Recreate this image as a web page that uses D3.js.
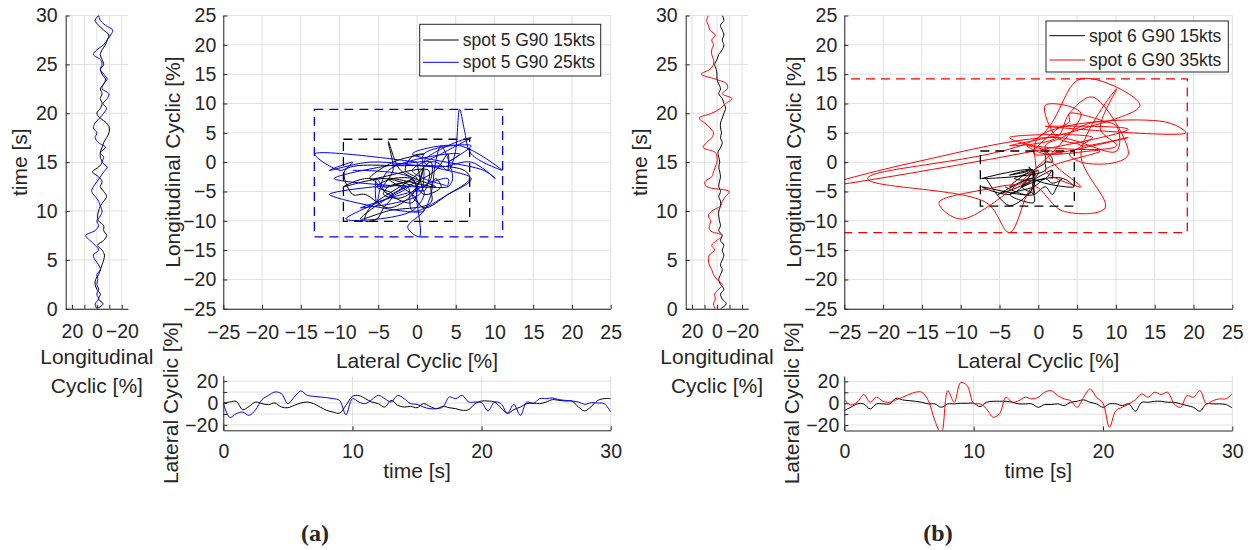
<!DOCTYPE html>
<html>
<head>
<meta charset="utf-8">
<script src="https://cdn.jsdelivr.net/npm/d3@7"></script>
<style>
  body { margin: 0; background: #fff; }
  text { font-family: "Liberation Sans", Arial, sans-serif; fill: #262626; }
</style>
</head>
<body>
<svg id="fig" width="1253" height="550"></svg>
<script>
// sample times [s]
var timeS = [0,0.5,1,1.5,2,2.5,3,3.5,4,4.5,5,5.5,6,6.5,7,7.5,8,8.5,9,9.5,10,10.5,11,11.5,12,12.5,13,13.5,14,14.5,
  15,15.5,16,16.5,17,17.5,18,18.5,19,19.5,20,20.5,21,21.5,22,22.5,23,23.5,24,24.5,25,25.5,26,26.5,27,27.5,28,28.5,29,29.5,30];

// (a) spot 5 G90 15kts
var lonA15 = [0,-5,-1.4,-2.8,0,1.4,1,-1.4,-2.8,-4.2,-5.5,-6.1,-4.2,-0.6,-5.5,-7.8,-5.5,-5.5,-1.4,-0.6,-1.4,-2.8,-5.5,-7.8,-5.5,-2.8,-4.2,-1.4,3.5,-1.4,
  -4.2,-2.8,-2.8,-4.2,-5.5,-7.8,-9.7,-10,-7.8,-2.8,0,-2.8,-4.2,-2.8,-4.2,-2.8,-5.5,-6.9,-4.2,-2.8,-5.5,-4.2,-2.8,-4.2,-6.9,-8.3,-9.7,-5.5,-1.4,1.4,-1.4];
var latA15 = [0,0.9,1.5,-6.1,-3.1,0.9,-0.6,-1.5,0,-3.7,-4.3,-2.1,0,0.9,-0.6,-3.7,-6.7,-8.3,-9.3,-2.1,6.1,6.8,4,0.9,-0.6,-3.7,2.4,-2.1,-3.7,-3.1,
  -4.3,-0.6,-3.1,-5.2,-3.1,-4.3,-5.2,-6.7,-6.1,-0.6,1.8,1.8,0.9,-4.3,-9.5,-6.1,-3.7,-0.6,0,-0.6,0.9,3.1,2.4,1.8,1.8,-3.7,-7.3,-3.1,2.4,4,4];
// (a) spot 5 G90 25kts
var lonA25 = [0,1.4,-1.4,0,-1.4,0,-0.8,0,-2.8,-1.4,1.4,2.8,-1.4,1.4,5.6,9,1.4,-1.4,0,-2.8,-4.2,-2.8,-1.4,1.4,4.2,2.8,0,-2.8,-5.5,-8.3,
  -4.2,-5.5,-2.8,-6.9,-1.4,1.4,0,2.8,1.4,-2.2,-5.5,-7.8,-5,-8.3,-9.7,-4.2,-5.5,-8.3,-5.5,-2.8,-4.2,-2.8,2.8,0,-5.5,-8.3,-11.1,-12.7,-6.9,-2.8,-1.4];
var latA25 = [0,-13.2,-9.8,-8.3,-11.3,-6.1,3.1,7,10.1,8.6,-0.6,5.5,11,7,6.1,5.5,4.9,4,2.4,-10.7,4,0.9,-0.6,3.1,7,4,0.9,7,4,-0.6,
  -1.2,-3.7,-5.2,-5.2,-3.7,5.5,4,7,0.9,0.9,0.3,-7.3,0.9,-0.6,-9.2,-1.2,-11.3,0.9,-0.6,4,4,4.6,3.1,2.4,1.8,0.9,-1.2,0.3,0,-0.6,-8.3];
// (b) spot 6 G90 15kts
var lonB15 = [-2.8,-7.4,-4.2,-2.8,-5.5,-2.8,-1.4,-2.8,-4.2,-2.8,-4.2,-5.5,-4.2,-5.5,-2.8,-4.2,-1.4,-2.8,-1.9,-1.4,-1.4,-2.8,-2.8,-1.4,-2.8,-1.4,-1.9,-2.8,-2.2,-1.4,
  -2.2,-1.4,-0.8,-2.8,-4.2,-2.8,-3.6,-2.8,-2.8,-4.2,-5.5,-6.9,-5.5,-4.2,-1.4,-2.8,-1.4,0,0,0.6,1.9,0,-1.4,-4.2,-5.5,-4.2,-5.5,-4.2,-2.8,-5.5,-4.2];
var latB15 = [-6.7,-3.7,-0.6,-0.6,-5.2,-0.6,-0.6,-0.6,4.6,3.1,2.4,1.8,0.9,-0.6,-0.6,-3.7,-0.6,-0.6,0,0,0,-3.1,0.9,1.8,1.8,1.8,0.9,-0.6,-0.6,-0.6,
  -3.7,-1.2,-1.2,-0.6,-2.1,0.9,1.8,3.1,0.9,-0.6,-3.7,-0.6,-0.6,-2.1,-0.6,-7.3,0.9,0.9,1.8,1.8,0.9,0.9,-0.6,-2.1,-3.7,-7.3,-0.6,-0.6,-0.6,-1.2,-4.3];
// (b) spot 6 G90 35kts
var lonB35 = [1.4,2.8,1.4,1.9,-1.4,-4.2,0,2.8,4.2,6.1,6.9,6.1,1.9,4.2,0,-4.2,5.6,6.1,5,6.9,4.2,-2.8,-4.2,-6.9,-9.7,8.3,9.7,4.2,2.8,1.4,
  0,0,1.4,11.1,8.3,4.2,2.8,5.6,9.7,14.2,4.2,-2.8,-6.9,-12,-4.2,-8.3,-7.8,1.4,12.5,5.6,2.8,2.8,4.2,4.2,2.8,4.2,1.4,5.6,6.9,8.3,6.9];
var latB35 = [3.1,-1.5,0.9,8,0.9,5.5,1.8,0.9,3.1,5.5,8,10.1,10.1,2.4,-15.9,-28,11.6,0.9,19,16.2,0,-0.6,-5.2,-12.8,-9.8,5.5,0.9,2.4,5.5,4,
  5.5,10.1,11.6,7,4,2.4,-3.7,5.5,13.1,5.5,0,-22,-6.7,-3.7,-0.6,3.1,8.6,5.5,10.1,8,10.1,-0.6,-3.7,7,5.5,11.6,-0.6,2.4,4,4,8.6];

// dashed envelopes: [lat min, lat max, lon min, lon max]
var boxA15 = [-9.5, 6.8, -10.1, 3.9];
var boxA25 = [-13.25, 11.05, -12.75, 9.0];
var boxB15 = [-7.47, 4.64, -7.5, 1.9];
var boxB35 = [-28, 19.2, -12.0, 14.2];

var mainTicks = [-25,-20,-15,-10,-5,0,5,10,15,20,25];
var cycTicks = [-20,-10,0,10,20];
var cycLabels = [-20,0,20];
var sideTimeTicks = [0,5,10,15,20,25,30];
var botTimeTicks = [0,10,20,30];

var grey = "#262626", gridC = "#e0e0e0";
var svg = d3.select("#fig");
var clipN = 0;

function clipRect(x0, y0, x1, y1) {
  var id = "clip" + (clipN++);
  svg.append("clipPath").attr("id", id).append("rect")
    .attr("x", x0).attr("y", y0).attr("width", x1 - x0).attr("height", y1 - y0);
  return "url(#" + id + ")";
}

// grid + axes for one axes box, ticks pointing inward like matlab
function frame(g, x, y, xt, yt, xFmt, yFmt, xPad, yPad) {
  var xr = x.range(), yr = y.range();
  var x0 = d3.min(xr), x1 = d3.max(xr), y0 = d3.min(yr), y1 = d3.max(yr);
  g.append("g").selectAll("line").data(xt).join("line")
    .attr("x1", d => x(d)).attr("x2", d => x(d)).attr("y1", y0).attr("y2", y1)
    .attr("stroke", gridC);
  g.append("g").selectAll("line").data(yt).join("line")
    .attr("y1", d => y(d)).attr("y2", d => y(d)).attr("x1", x0).attr("x2", x1)
    .attr("stroke", gridC);
  var ax = g.append("g").attr("class", "axes");
  ax.append("g").attr("transform", "translate(0," + y1 + ")")
    .call(d3.axisBottom(x).tickValues(xt).tickSize(-4).tickSizeOuter(0).tickPadding(xPad).tickFormat(xFmt));
  ax.append("g").attr("transform", "translate(" + x0 + ",0)")
    .call(d3.axisLeft(y).tickValues(yt).tickSize(-4).tickSizeOuter(0).tickPadding(yPad).tickFormat(yFmt));
  ax.selectAll("path, line").attr("stroke", grey);
  ax.selectAll("text").attr("font-size", 19.5).attr("fill", grey)
    .style("font-family", '"Liberation Sans", Arial, sans-serif');
}

function cycFmt(d) { return cycLabels.indexOf(d) >= 0 ? d3.format("d")(d) : ""; }

function panel(p) {
  var g = svg.append("g");
  var series = p.series;

  // ---- side plot: longitudinal vs time
  var sx = d3.scaleLinear().domain([25, -25]).range([p.sideL, p.sideR]);
  var sy = d3.scaleLinear().domain([0, 30]).range([p.bot, p.top]);
  var sg = g.append("g");
  frame(sg, sx, sy, cycTicks, sideTimeTicks, cycFmt, d3.format("d"), 15, 8);
  var sClip = clipRect(p.sideL, p.top, p.sideR, p.bot);
  var sd = sg.insert("g", ".axes").attr("clip-path", sClip);
  series.forEach(function (s) {
    sd.append("path").datum(timeS)
      .attr("fill", "none").attr("stroke", s.color).attr("stroke-width", 1)
      .attr("d", d3.line().x((t, i) => sx(s.lon[i])).y(t => sy(t)).curve(d3.curveCatmullRom));
  });
  sg.append("text").attr("transform", "translate(" + (p.sideL - 38.5) + "," + ((p.top + p.bot) / 2) + ") rotate(-90)")
    .attr("text-anchor", "middle").attr("font-size", 21).text("time [s]");
  var scx = (p.sideL + p.sideR) / 2;
  sg.append("text").attr("x", scx).attr("y", p.bot + 55.5).attr("text-anchor", "middle").attr("font-size", 21).text("Longitudinal");
  sg.append("text").attr("x", scx).attr("y", p.bot + 84.5).attr("text-anchor", "middle").attr("font-size", 21).text("Cyclic [%]");

  // ---- main plot: lateral vs longitudinal
  var mx = d3.scaleLinear().domain([-25, 25]).range([p.mainL, p.mainR]);
  var my = d3.scaleLinear().domain([-25, 25]).range([p.bot, p.top]);
  var mg = g.append("g");
  frame(mg, mx, my, mainTicks, mainTicks, d3.format("d"), d3.format("d"), 16, 7);
  var mClip = clipRect(p.mainL, p.top, p.mainR, p.bot);
  var md = mg.insert("g", ".axes").attr("clip-path", mClip);
  series.forEach(function (s) {
    md.append("path").datum(timeS)
      .attr("fill", "none").attr("stroke", s.color).attr("stroke-width", 1)
      .attr("d", d3.line().x((t, i) => mx(s.lat[i])).y((t, i) => my(s.lon[i])).curve(d3.curveCatmullRom));
  });
  series.forEach(function (s) {
    var b = s.box;
    md.append("rect")
      .attr("x", mx(b[0])).attr("y", my(b[3]))
      .attr("width", mx(b[1]) - mx(b[0])).attr("height", my(b[2]) - my(b[3]))
      .attr("fill", "none").attr("stroke", s.color).attr("stroke-width", 1.3)
      .attr("stroke-dasharray", "9,6");
  });
  mg.append("text").attr("x", (p.mainL + p.mainR) / 2).attr("y", p.bot + 59)
    .attr("text-anchor", "middle").attr("font-size", 21).text("Lateral Cyclic [%]");
  mg.append("text").attr("transform", "translate(" + (p.mainL - 43) + "," + ((p.top + p.bot) / 2) + ") rotate(-90)")
    .attr("text-anchor", "middle").attr("font-size", 21).text("Longitudinal Cyclic [%]");

  // legend
  var lg = mg.append("g").attr("transform", "translate(" + p.leg[0] + "," + p.leg[1] + ")");
  lg.append("rect").attr("width", p.leg[2]).attr("height", p.leg[3])
    .attr("fill", "#fff").attr("stroke", grey).attr("stroke-width", 1);
  series.forEach(function (s, i) {
    var yy = p.legRows[i];
    lg.append("line").attr("x1", 3.5).attr("x2", 39).attr("y1", yy).attr("y2", yy)
      .attr("stroke", s.color).attr("stroke-width", 1);
    lg.append("text").attr("x", 43).attr("y", yy).attr("dy", "0.35em")
      .attr("font-size", 17.5).attr("fill", "#000").text(s.name);
  });

  // ---- bottom plot: lateral vs time
  var bx = d3.scaleLinear().domain([0, 30]).range([p.mainL, p.mainR]);
  var by = d3.scaleLinear().domain([-25, 25]).range([p.bBot, p.bTop]);
  var bg = g.append("g");
  frame(bg, bx, by, botTimeTicks, cycTicks, d3.format("d"), cycFmt, 14, 5);
  var bClip = clipRect(p.mainL, p.bTop, p.mainR, p.bBot);
  var bd = bg.insert("g", ".axes").attr("clip-path", bClip);
  series.forEach(function (s) {
    bd.append("path").datum(timeS)
      .attr("fill", "none").attr("stroke", s.color).attr("stroke-width", 1)
      .attr("d", d3.line().x(t => bx(t)).y((t, i) => by(s.lat[i])).curve(d3.curveCatmullRom));
  });
  bg.append("text").attr("x", (p.mainL + p.mainR) / 2).attr("y", p.bBot + 47.5)
    .attr("text-anchor", "middle").attr("font-size", 21).text("time [s]");
  bg.append("text").attr("transform", "translate(" + (p.mainL - 45.5) + "," + ((p.bTop + p.bBot) / 2) + ") rotate(-90)")
    .attr("text-anchor", "middle").attr("font-size", 21).text("Lateral Cyclic [%]");

  // panel tag
  g.append("text").attr("x", p.tag[0]).attr("y", p.tag[1]).attr("text-anchor", "middle")
    .style("font-family", '"Liberation Serif", "Times New Roman", serif')
    .attr("font-weight", "bold").attr("font-size", 24).attr("fill", "#000").text(p.tagText);
}

panel({
  sideL: 65.7, sideR: 128, mainL: 223.3, mainR: 610.7, top: 15.5, bot: 308.8,
  bTop: 375.7, bBot: 430.3,
  leg: [419.7, 24.3, 181, 51.7], legRows: [15.7, 38],
  tag: [315, 541], tagText: "(a)",
  series: [
    { name: "spot 5 G90 15kts", color: "#000000", lon: lonA15, lat: latA15, box: boxA15 },
    { name: "spot 5 G90 25kts", color: "#0000ff", lon: lonA25, lat: latA25, box: boxA25 }
  ]
});

panel({
  sideL: 685.7, sideR: 748.3, mainL: 844.3, mainR: 1232.3, top: 15.5, bot: 308.8,
  bTop: 376, bBot: 430.5,
  leg: [1046, 21, 182.3, 51], legRows: [14.7, 39],
  tag: [938, 541], tagText: "(b)",
  series: [
    { name: "spot 6 G90 15kts", color: "#000000", lon: lonB15, lat: latB15, box: boxB15 },
    { name: "spot 6 G90 35kts", color: "#ff0000", lon: lonB35, lat: latB35, box: boxB35 }
  ]
});
</script>
</body>
</html>
